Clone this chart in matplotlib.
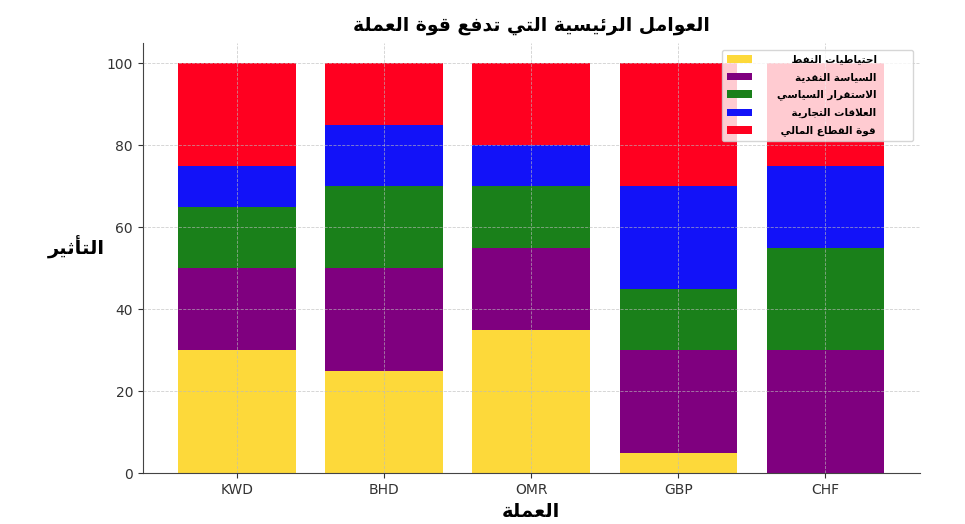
import matplotlib
matplotlib.use("Agg")
import matplotlib.pyplot as plt
import numpy as np

#=== DATA ===#

currencies = ["KWD", "BHD", "OMR", "GBP", "CHF"]
factor_names = ["احتياطيات النفط", "السياسة النقدية", "الاستقرار السياسي",
                "العلاقات التجارية", "قوة القطاع المالي"]
oil_reserves = [30, 25, 35, 5, 0]
monetary_policy = [20, 25, 20, 25, 30]
political_stability = [15, 20, 15, 15, 25]
trade_relations = [10, 15, 10, 25, 20]
financial_sector = [25, 15, 20, 30, 25]
factor_colors = ["#FDD93A", "#7F007F", "#1A801A", "#1212F8", "#FF0020"]

title_text = "العوامل الرئيسية التي تدفع قوة العملة"
xlabel_text = "العملة"
ylabel_text = "التأثير"

#=== tiny arabic shaper (matplotlib has no bidi / joining) ===#

# (isolated, final, initial, medial) ; right-joining letters only have 2 forms
FORMS = {
    "ا": (0xFE8D, 0xFE8E), "أ": (0xFE83, 0xFE84), "إ": (0xFE87, 0xFE88),
    "آ": (0xFE81, 0xFE82), "ؤ": (0xFE85, 0xFE86), "د": (0xFEA9, 0xFEAA),
    "ذ": (0xFEAB, 0xFEAC), "ر": (0xFEAD, 0xFEAE), "ز": (0xFEAF, 0xFEB0),
    "و": (0xFEED, 0xFEEE), "ة": (0xFE93, 0xFE94), "ى": (0xFEEF, 0xFEF0),
    "ب": (0xFE8F, 0xFE90, 0xFE91, 0xFE92), "ت": (0xFE95, 0xFE96, 0xFE97, 0xFE98),
    "ث": (0xFE99, 0xFE9A, 0xFE9B, 0xFE9C), "ج": (0xFE9D, 0xFE9E, 0xFE9F, 0xFEA0),
    "ح": (0xFEA1, 0xFEA2, 0xFEA3, 0xFEA4), "خ": (0xFEA5, 0xFEA6, 0xFEA7, 0xFEA8),
    "س": (0xFEB1, 0xFEB2, 0xFEB3, 0xFEB4), "ش": (0xFEB5, 0xFEB6, 0xFEB7, 0xFEB8),
    "ص": (0xFEB9, 0xFEBA, 0xFEBB, 0xFEBC), "ض": (0xFEBD, 0xFEBE, 0xFEBF, 0xFEC0),
    "ط": (0xFEC1, 0xFEC2, 0xFEC3, 0xFEC4), "ظ": (0xFEC5, 0xFEC6, 0xFEC7, 0xFEC8),
    "ع": (0xFEC9, 0xFECA, 0xFECB, 0xFECC), "غ": (0xFECD, 0xFECE, 0xFECF, 0xFED0),
    "ف": (0xFED1, 0xFED2, 0xFED3, 0xFED4), "ق": (0xFED5, 0xFED6, 0xFED7, 0xFED8),
    "ك": (0xFED9, 0xFEDA, 0xFEDB, 0xFEDC), "ل": (0xFEDD, 0xFEDE, 0xFEDF, 0xFEE0),
    "م": (0xFEE1, 0xFEE2, 0xFEE3, 0xFEE4), "ن": (0xFEE5, 0xFEE6, 0xFEE7, 0xFEE8),
    "ه": (0xFEE9, 0xFEEA, 0xFEEB, 0xFEEC), "ي": (0xFEF1, 0xFEF2, 0xFEF3, 0xFEF4),
    "ئ": (0xFE89, 0xFE8A, 0xFE8B, 0xFE8C),
}
LAM_ALEF = {"ا": (0xFEFB, 0xFEFC), "أ": (0xFEF7, 0xFEF8),
            "إ": (0xFEF9, 0xFEFA), "آ": (0xFEF5, 0xFEF6)}


def shape(text):
    # merge lam + alef into ligature tokens first
    tokens = []
    i = 0
    while i < len(text):
        if text[i] == "ل" and i + 1 < len(text) and text[i + 1] in LAM_ALEF:
            tokens.append(LAM_ALEF[text[i + 1]])
            i += 2
        else:
            tokens.append(FORMS.get(text[i], text[i]))
            i += 1
    out = []
    for k, f in enumerate(tokens):
        if isinstance(f, str):
            out.append(f)
            continue
        prev = tokens[k - 1] if k > 0 else None
        nxt = tokens[k + 1] if k + 1 < len(tokens) else None
        join_prev = isinstance(prev, tuple) and len(prev) == 4
        join_next = len(f) == 4 and isinstance(nxt, tuple)
        if join_prev and join_next:
            out.append(chr(f[3]))
        elif join_prev:
            out.append(chr(f[1]))
        elif join_next:
            out.append(chr(f[2]))
        else:
            out.append(chr(f[0]))
    return "".join(out)[::-1]


#=== PLOT ===#

plt.rcParams["font.family"] = ["DejaVu Sans"]

fig = plt.figure(figsize=(9.65, 5.24), dpi=100)
ax = fig.add_axes([0.148, 0.097, 0.805, 0.821])

# right-align legend labels by padding them on the left with spaces
fs = 7.5
rend = fig.canvas.get_renderer()
def text_w(s):
    t = fig.text(0, 0, s, fontsize=fs, fontweight="bold")
    w = t.get_window_extent(rend).width
    t.remove()
    return w
space_w = (text_w("a" + " " * 20 + "a") - text_w("aa")) / 20.0
shaped = [shape(n) for n in factor_names]
widths = [text_w(s) for s in shaped]
labels = [" " * int(round((max(widths) - w) / space_w)) + s
          for s, w in zip(shaped, widths)]

series = [oil_reserves, monetary_policy, political_stability,
          trade_relations, financial_sector]
x = np.arange(len(currencies))
bottom = np.zeros(len(currencies))
for vals, lab, col in zip(series, labels, factor_colors):
    ax.bar(x, vals, 0.8, bottom=bottom, color=col, label=lab)
    bottom += np.array(vals)

ax.set_xticks(x)
ax.set_xticklabels(currencies, fontsize=10, color="#333333")
ax.set_yticks([0, 20, 40, 60, 80, 100])
ax.tick_params(axis="y", labelsize=10, labelcolor="#333333")
ax.tick_params(colors="#333333", length=3.5)

ax.grid(True, linestyle="--", color="#bbbbbb", linewidth=0.6, alpha=0.7)
ax.set_axisbelow(False)
for s in ["top", "right"]:
    ax.spines[s].set_visible(False)
for s in ["left", "bottom"]:
    ax.spines[s].set_color("#444444")

ax.set_title(shape(title_text), fontsize=13.5, fontweight="bold", pad=9)
ax.set_xlabel(shape(xlabel_text), fontsize=14, fontweight="bold", labelpad=4)
ax.set_ylabel(shape(ylabel_text), fontsize=14, fontweight="bold",
              rotation=0, labelpad=22)

fpx = fs * 100 / 72.0
leg = ax.legend(loc="upper right", bbox_to_anchor=(0.746, 0.0, 0.246, 0.984),
                mode="expand", borderaxespad=0.0,
                handlelength=25 / fpx, handletextpad=25 / fpx,
                borderpad=0.45, labelspacing=0.72,
                framealpha=0.8, edgecolor="#cccccc",
                prop={"weight": "bold", "size": fs})

fig.savefig("out.png", dpi=100)
